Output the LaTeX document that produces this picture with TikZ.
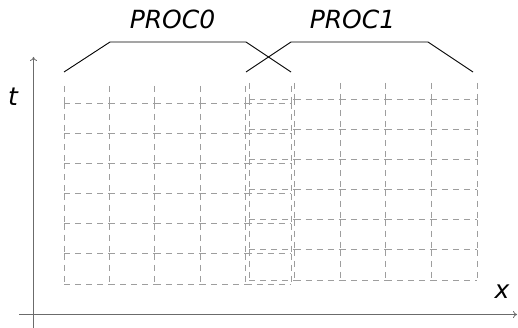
\documentclass[tikz,border=0pt]{standalone}
\usepackage{fontspec}
\setmainfont{DejaVu Sans}
\usetikzlibrary{arrows.meta}
\begin{document}
\begin{tikzpicture}[x=1pt,y=-1pt,
  cellline/.style={draw=black!38, line width=0.9pt, dash pattern=on 6pt off 5pt},
  axisline/.style={draw=black!58, line width=1.6pt, -{To[length=4pt,width=7pt,line width=0.8pt]}},
  brace/.style={draw=black, line width=0.9pt},
  lbl/.style={font=\fontsize{25}{30}\selectfont\itshape, inner sep=0pt, anchor=base}]
\useasboundingbox (0,0) rectangle (518,328);
% PROC0 grid
\foreach \i in {0,...,5}{
  \pgfmathsetmacro\xx{64+45.4*\i}
  \draw[cellline] (\xx,86) -- (\xx,103);
  \foreach \j in {0,...,5}{
    \pgfmathsetmacro\ya{103+30.17*\j}
    \pgfmathsetmacro\yb{103+30.17*(\j+1)}
    \draw[cellline] (\xx,\ya) -- (\xx,\yb);
  }
}
\foreach \i in {0,...,4}{
  \pgfmathsetmacro\xa{64+45.4*\i}
  \pgfmathsetmacro\xb{64+45.4*(\i+1)}
  \foreach \j in {0,...,6}{
    \pgfmathsetmacro\ya{103+30.17*\j}
    \draw[cellline] (\xa,\ya) -- (\xb,\ya);
  }
}
% PROC1 grid
\foreach \i in {0,...,5}{
  \pgfmathsetmacro\xx{249+45.6*\i}
  \draw[cellline] (\xx,83) -- (\xx,99);
  \foreach \j in {0,...,5}{
    \pgfmathsetmacro\ya{99+30.17*\j}
    \pgfmathsetmacro\yb{99+30.17*(\j+1)}
    \draw[cellline] (\xx,\ya) -- (\xx,\yb);
  }
}
\foreach \i in {0,...,4}{
  \pgfmathsetmacro\xa{249+45.6*\i}
  \pgfmathsetmacro\xb{249+45.6*(\i+1)}
  \foreach \j in {0,...,6}{
    \pgfmathsetmacro\ya{99+30.17*\j}
    \draw[cellline] (\xa,\ya) -- (\xb,\ya);
  }
}
% axes
\coordinate (o1) at (33.5,328);
\coordinate (t1) at (33.5,57);
\coordinate (o2) at (19,314.5);
\coordinate (x1) at (517,314.5);
\draw[axisline] (o1) -- (t1);
\draw[axisline] (o2) -- (x1);
% brackets
\coordinate (a0) at (64,72);
\coordinate (a1) at (110,42);
\coordinate (a2) at (246,42);
\coordinate (a3) at (291,72);
\draw[brace] (a0) -- (a1) -- (a2) -- (a3);
\coordinate (b0) at (246,72);
\coordinate (b1) at (291,42);
\coordinate (b2) at (428,42);
\coordinate (b3) at (473,72);
\draw[brace] (b0) -- (b1) -- (b2) -- (b3);
% labels
\node[lbl] (p0) at (172.5,29) {PROC0};
\node[lbl] (p1) at (352.5,29) {PROC1};
\node[lbl] (tl) at (13,106) {t};
\node[lbl] (xl) at (502,298) {x};
\end{tikzpicture}
\end{document}
